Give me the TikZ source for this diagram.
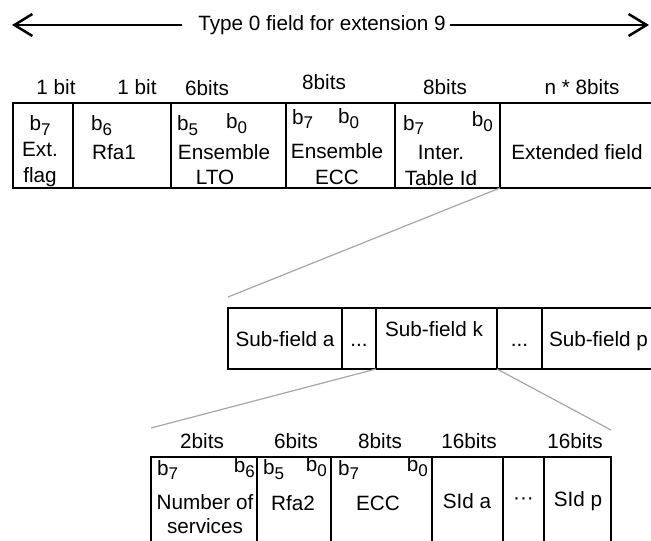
\documentclass[tikz,border=0pt]{standalone}
\usepackage{fontspec}
\setmainfont{Liberation Sans}
\usetikzlibrary{arrows.meta, positioning}

% b with a lowered bit number
\newcommand{\bsub}[1]{b\raisebox{-0.45ex}{\fontsize{17}{17}\selectfont #1}}

\begin{document}
\begin{tikzpicture}[
  x=1pt, y=-1pt,
  font=\fontsize{20.7}{26}\selectfont,
  >={Straight Barb[length=18pt, width=22pt, line width=2.5pt]},
  cell/.style={draw, line width=2pt, inner sep=0pt, outer sep=0pt},
  toprow/.style={cell, minimum height=85pt},
  subrow/.style={cell, minimum height=61pt, text height=15pt, text depth=0pt},
  lowrow/.style={cell, minimum height=89pt},
  txt/.style={inner sep=0pt, align=center},
  zoomline/.style={gray!70, line width=1.2pt}
]
\fill[white] (0,0) rectangle (651,541);
\useasboundingbox (0,0) rectangle (651,541);

% title arrow
\node[txt] (title) at (322,25) {Type 0 field for extension 9};
\coordinate (arr-l) at (12,25);
\coordinate (arr-r) at (649,25);
\draw[->, line width=2.5pt] ([xshift=-16pt]title.west) -- (arr-l);
\draw[->, line width=2.5pt] ([xshift=4pt]title.east) -- (arr-r);

% type 0 field
\node[toprow, minimum width=60pt]  (flag) at (43,145.5)    {};
\node[toprow, minimum width=98pt]  (rfa1) at (122,145.5)   {};
\node[toprow, minimum width=115pt] (lto)  at (228.5,145.5) {};
\node[toprow, minimum width=109pt] (ecc)  at (340.5,145.5) {};
\node[toprow, minimum width=105pt] (tid)  at (447.5,145.5) {};
\node[toprow, minimum width=155pt] (ext)  at (577.5,145.5) {};

\node[txt] (w-flag) at (56,87)  {1 bit};
\node[txt] (w-rfa1) at (137,87) {1 bit};
\node[txt] (w-lto)  at (207,88) {6bits};
\node[txt] (w-ecc)  at (324,82) {8bits};
\node[txt] (w-tid)  at (445,87) {8bits};
\node[txt] (w-ext)  at (582,87) {n * 8bits};

\node[txt] (flag-t) at (40,151) {\bsub{7}\\Ext.\\flag};
\node[txt, anchor=west] (rfa1-b6) at (91,126) {\bsub{6}};
\node[txt, anchor=west] (rfa1-t)  at (92,152) {Rfa1};
\node[txt, anchor=west] (lto-b5)  at (177,126) {\bsub{5}};
\node[txt, anchor=west] (lto-b0)  at (226,124) {\bsub{0}};
\node[txt] (lto-t)  at (224,152) {Ensemble};
\node[txt] (lto-t2) at (215,177) {LTO};
\node[txt, anchor=west] (ecc-b7)  at (292,119) {\bsub{7}};
\node[txt, anchor=west] (ecc-b0)  at (338,119) {\bsub{0}};
\node[txt] (ecc-t)  at (337,164) {Ensemble\\ECC};
\node[txt, anchor=west] (tid-b7)  at (403,125) {\bsub{7}};
\node[txt, anchor=east] (tid-b0)  at (493,122) {\bsub{0}};
\node[txt] (tid-t)  at (441,165) {Inter.\\Table Id};
\node[txt] (ext-t)  at (577,152) {Extended field};

% extended field
\node[subrow, minimum width=114pt] (sfa)   at (285,338.5)   {Sub-field a};
\node[subrow, minimum width=34pt]  (dots1) at (359,338.5)   {...};
\node[subrow, minimum width=121pt] (sfk)   at (436.5,338.5) {};
\node[subrow, minimum width=45pt]  (dots2) at (519.5,338.5) {...};
\node[subrow, minimum width=113pt] (sfp)   at (598.5,338.5) {Sub-field p};
\node[txt] (sfk-t) at (434,329) {Sub-field k};

\coordinate (sub-top) at (228,297);
\draw[zoomline] (ext.south west) -- (sub-top);

% sub-field k
\node[lowrow, minimum width=106pt] (nsv)   at (204,501.5)   {};
\node[lowrow, minimum width=74pt]  (rfa2)  at (294,501.5)   {};
\node[lowrow, minimum width=101pt] (ecc2)  at (381.5,501.5) {};
\node[lowrow, minimum width=71pt]  (sida)  at (467.5,501.5) {};
\node[lowrow, minimum width=41pt]  (dots3) at (523.5,501.5) {};
\node[lowrow, minimum width=67pt]  (sidp)  at (577.5,501.5) {};

\node[txt] (w-nsv)  at (202,441) {2bits};
\node[txt] (w-rfa2) at (296,441) {6bits};
\node[txt] (w-ecc2) at (380,441) {8bits};
\node[txt] (w-sida) at (469,441) {16bits};
\node[txt] (w-sidp) at (575,441) {16bits};

\node[txt, anchor=west] (nsv-b7)  at (157,470) {\bsub{7}};
\node[txt, anchor=east] (nsv-b6)  at (255,468) {\bsub{6}};
\node[txt] (nsv-t)  at (205,514) {Number of\\[-2pt]services};
\node[txt, anchor=west] (rfa2-b5) at (263,470) {\bsub{5}};
\node[txt, anchor=east] (rfa2-b0) at (327,467) {\bsub{0}};
\node[txt] (rfa2-t) at (293,503) {Rfa2};
\node[txt, anchor=west] (ecc2-b7) at (338,470) {\bsub{7}};
\node[txt, anchor=east] (ecc2-b0) at (428,467) {\bsub{0}};
\node[txt] (ecc2-t) at (378,503) {ECC};
\node[txt] (sida-t)  at (467,501) {SId a};
\node[txt] (dots3-t) at (523.5,501) {···};
\node[txt] (sidp-t)  at (578,501) {SId p};

\coordinate (low-left)  at (151,428);
\coordinate (low-right) at (611,430);
\draw[zoomline] (sfk.south west) -- (low-left);
\draw[zoomline] (dots2.south west) -- (low-right);
\end{tikzpicture}
\end{document}
